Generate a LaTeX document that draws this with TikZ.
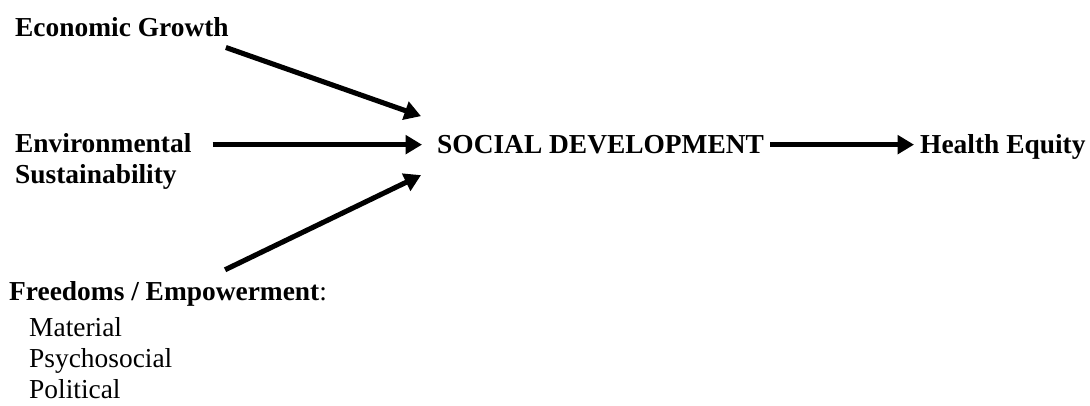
\documentclass[tikz,border=0pt]{standalone}
\usepackage{fontspec}
\setmainfont{Liberation Serif}
\usetikzlibrary{calc,arrows.meta}
\tikzset{
  arr/.style={draw=black, line width=2.9pt, -{Triangle[length=0.33cm,width=0.37cm]}},
  head/.style={font=\fontsize{15.6}{17.6}\selectfont\bfseries, align=left, anchor=base west},
  plain/.style={font=\fontsize{15.6}{17.6}\selectfont, align=left, anchor=base west},
}
\begin{document}
\begin{tikzpicture}
\useasboundingbox (0,0) rectangle (21.8,8.1);
\node[head] (eco) at (0.18,7.38) {Economic Growth};
\node[head] (env) at (0.18,4.44) {Environmental\\Sustainability};
\node[head] (soc) at (8.62,5.03) {SOCIAL DEVELOPMENT};
\node[head] (health) at (18.28,5.03) {Health Equity};
\node[plain] (free) at (0.06,2.1) {\textbf{Freedoms / Empowerment}:};
\node[plain] (kinds) at (0.46,0.14) {Material\\Psychosocial\\Political};

\draw[arr] ([xshift=-0.18cm,yshift=-0.1cm]eco.south east) -- ([xshift=-0.2cm,yshift=0.26cm]soc.north west);
\draw[arr] ([xshift=0.3cm]env.east |- soc.west) -- ([xshift=-0.18cm]soc.west);
\draw[arr] ([xshift=1.14cm,yshift=0.1cm]free.north) -- ([xshift=-0.2cm,yshift=-0.3cm]soc.south west);
\draw[arr] (soc.east) -- (soc.east -| health.west);
\end{tikzpicture}
\end{document}
